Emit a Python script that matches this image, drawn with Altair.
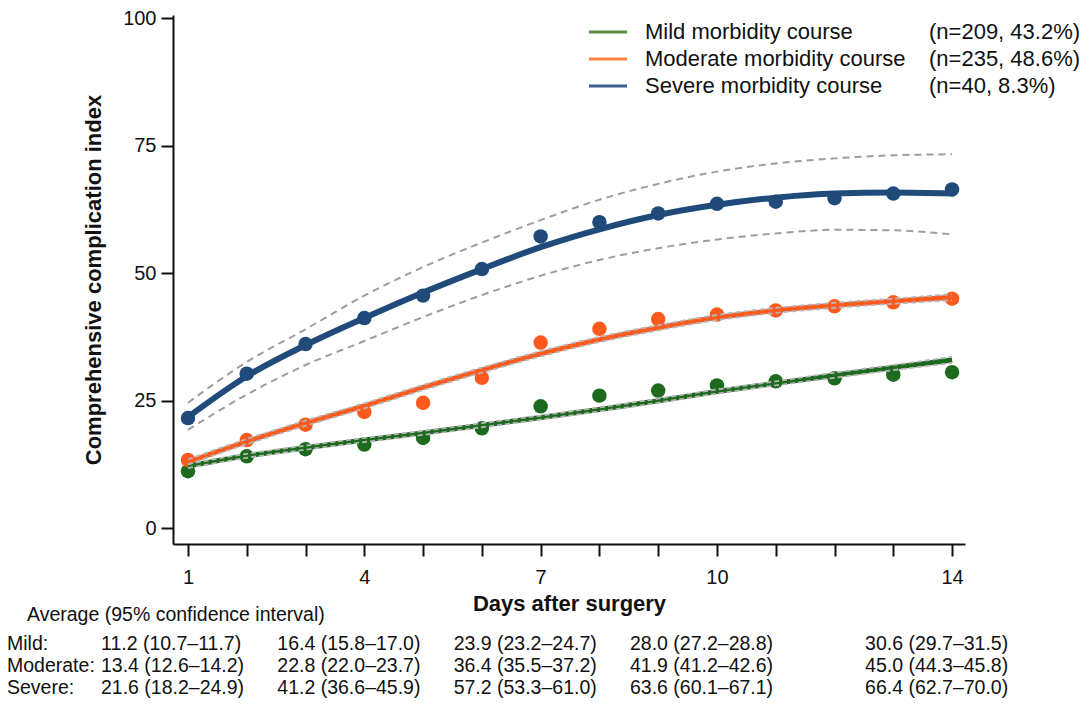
import altair as alt
import pandas as pd

FONT = "Liberation Sans"

days = list(range(1, 15))
series = ["Mild", "Moderate", "Severe"]

# observed daily means
mild_obs = [11.2, 14.1, 15.5, 16.4, 17.7, 19.6, 23.9, 26.0, 27.0, 28.0, 28.8, 29.4, 30.1, 30.6]
mod_obs = [13.4, 17.3, 20.3, 22.8, 24.6, 29.5, 36.4, 39.1, 41.0, 41.9, 42.7, 43.5, 44.3, 45.0]
sev_obs = [21.6, 30.3, 36.1, 41.2, 45.6, 50.8, 57.2, 60.0, 61.7, 63.6, 64.0, 64.7, 65.6, 66.4]

# fitted trajectories
mild_fit = [12.2, 14.2, 15.8, 17.3, 18.7, 20.2, 21.7, 23.3, 25.0, 26.8, 28.4, 30.0, 31.5, 33.0]
mod_fit = [13.0, 17.0, 20.6, 24.0, 27.6, 31.0, 34.2, 37.0, 39.3, 41.3, 42.7, 43.7, 44.5, 45.3]
sev_fit = [21.8, 29.8, 35.9, 41.2, 46.2, 50.8, 55.1, 58.6, 61.4, 63.4, 64.8, 65.6, 65.8, 65.6]

# fitted confidence bounds
mild_lo = [11.8, 13.8, 15.4, 16.9, 18.3, 19.8, 21.3, 22.9, 24.6, 26.4, 28.0, 29.5, 31.0, 32.4]
mild_hi = [12.6, 14.6, 16.2, 17.7, 19.1, 20.6, 22.1, 23.7, 25.4, 27.2, 28.8, 30.5, 32.0, 33.6]
mod_lo = [12.5, 16.5, 20.1, 23.5, 27.1, 30.5, 33.7, 36.5, 38.8, 40.8, 42.2, 43.2, 44.0, 44.7]
mod_hi = [13.5, 17.5, 21.1, 24.5, 28.1, 31.5, 34.7, 37.5, 39.8, 41.8, 43.2, 44.2, 45.0, 45.9]
sev_lo = [19.3, 26.2, 32.0, 36.7, 41.4, 45.7, 49.5, 52.6, 54.9, 56.6, 57.8, 58.5, 58.4, 57.6]
sev_hi = [24.6, 32.6, 39.0, 45.6, 51.2, 56.0, 60.4, 64.4, 67.5, 69.9, 71.5, 72.5, 73.1, 73.3]

label_days = [1, 4, 7, 10, 14]
y_ticks = [0, 25, 50, 75, 100]

legend_names = ["Mild morbidity course", "Moderate morbidity course", "Severe morbidity course"]
legend_counts = ["(n=209, 43.2%)", "(n=235, 48.6%)", "(n=40, 8.3%)"]

table_days = [1, 4, 7, 10, 14]
row_labels = ["Mild:", "Moderate:", "Severe:"]
mild_tab = ["11.2 (10.7–11.7)", "16.4 (15.8–17.0)", "23.9 (23.2–24.7)", "28.0 (27.2–28.8)", "30.6 (29.7–31.5)"]
mod_tab = ["13.4 (12.6–14.2)", "22.8 (22.0–23.7)", "36.4 (35.5–37.2)", "41.9 (41.2–42.6)", "45.0 (44.3–45.8)"]
sev_tab = ["21.6 (18.2–24.9)", "41.2 (36.6–45.9)", "57.2 (53.3–61.0)", "63.6 (60.1–67.1)", "66.4 (62.7–70.0)"]
table_header = "Average (95% confidence interval)"

point_colors = ["#1d6a1f", "#ff5a1e", "#1f4a7a"]
line_colors = ["#1d6a1f", "#f7612a", "#1f4a7a"]
legend_colors = ["#5a8f3e", "#f4843f", "#3a5c91"]

obs = {"Mild": mild_obs, "Moderate": mod_obs, "Severe": sev_obs}
fit = {"Mild": mild_fit, "Moderate": mod_fit, "Severe": sev_fit}
lo = {"Mild": mild_lo, "Moderate": mod_lo, "Severe": sev_lo}
hi = {"Mild": mild_hi, "Moderate": mod_hi, "Severe": sev_hi}

obs_df = pd.DataFrame([{"day": d, "series": s, "value": v} for s in series for d, v in zip(days, obs[s])])
fit_df = pd.DataFrame([{"day": d, "series": s, "value": v} for s in series for d, v in zip(days, fit[s])])
ci_df = pd.DataFrame(
    [{"day": d, "series": s, "bound": "lo", "value": v} for s in series for d, v in zip(days, lo[s])]
    + [{"day": d, "series": s, "bound": "hi", "value": v} for s in series for d, v in zip(days, hi[s])]
)
band_df = pd.DataFrame(
    [{"day": d, "series": s, "lo": a, "hi": b} for s in ["Mild", "Moderate"] for d, a, b in zip(days, lo[s], hi[s])]
)

xs = alt.Scale(domain=[0.745, 14.22], nice=False, zero=False)
ys = alt.Scale(domain=[-3.08, 100.6], nice=False, zero=False)

x_axis = alt.Axis(
    values=days,
    labelExpr="indexof([1, 4, 7, 10, 14], datum.value) >= 0 ? datum.label : ''",
    title="Days after surgery",
    grid=False,
    tickSize=12,
    labelPadding=11,
    titlePadding=6,
    labelFlush=False,
    labelOverlap=False,
)
y_axis = alt.Axis(
    values=y_ticks,
    title="Comprehensive complication index",
    grid=False,
    tickSize=12,
    labelPadding=5,
    titlePadding=17,
)

X = alt.X("day:Q", scale=xs, axis=x_axis)
Y = alt.Y("value:Q", scale=ys, axis=y_axis)

pt_color = alt.Color("series:N", scale=alt.Scale(domain=series, range=point_colors), legend=None)
ln_color = alt.Color("series:N", scale=alt.Scale(domain=series, range=line_colors), legend=None)

band = alt.Chart(band_df).mark_area(color="#b0b0b0", opacity=0.5, interpolate="monotone").encode(
    x=X, y=alt.Y("lo:Q", scale=ys, axis=y_axis), y2="hi:Q", detail="series:N"
)

points = alt.Chart(obs_df).mark_circle(size=210, opacity=1).encode(x=X, y=Y, color=pt_color)

fit_main = alt.Chart(fit_df[fit_df.series == "Severe"]).mark_line(
    strokeWidth=6, interpolate="monotone", strokeCap="round"
).encode(x=X, y=Y, color=ln_color)
fit_other = alt.Chart(fit_df[fit_df.series != "Severe"]).mark_line(
    strokeWidth=5, interpolate="monotone"
).encode(x=X, y=Y, color=ln_color)

ci_sev = alt.Chart(ci_df[ci_df.series == "Severe"]).mark_line(
    color="#9d9d9d", strokeWidth=2, strokeDash=[7, 5], interpolate="monotone"
).encode(x=X, y=Y, detail="bound:N")
ci_other = alt.Chart(ci_df[ci_df.series != "Severe"]).mark_line(
    color="#b5b5b5", strokeWidth=1.8, strokeDash=[5, 3], interpolate="monotone"
).encode(x=X, y=Y, detail=["series:N", "bound:N"])

layers = [band, points, fit_other, fit_main, ci_other, ci_sev]

# manual legend
leg_y = [17, 44, 71]
for name, cnt, col, yy in zip(legend_names, legend_counts, legend_colors, leg_y):
    d1 = pd.DataFrame({"name": [name], "cnt": [cnt]})
    layers.append(
        alt.Chart(d1).mark_rule(color=col, strokeWidth=3).encode(
            x=alt.value(416), x2=alt.value(454), y=alt.value(yy)
        )
    )
    layers.append(
        alt.Chart(d1).mark_text(align="left", baseline="middle", fontSize=22, font=FONT, color="#111").encode(
            x=alt.value(472), y=alt.value(yy), text="name:N"
        )
    )
    layers.append(
        alt.Chart(d1).mark_text(align="left", baseline="middle", fontSize=22, font=FONT, color="#111").encode(
            x=alt.value(756), y=alt.value(yy), text="cnt:N"
        )
    )

# table under the axis
TFS = 19.5
hdr = pd.DataFrame({"t": [table_header]})
layers.append(
    alt.Chart(hdr).mark_text(align="left", baseline="middle", fontSize=TFS, font=FONT, color="#111").encode(
        x=alt.value(-146), y=alt.value(600), text="t:N"
    )
)
row_y = [629, 651, 673]
for lab, vals, yy in zip(row_labels, [mild_tab, mod_tab, sev_tab], row_y):
    dl = pd.DataFrame({"t": [lab]})
    layers.append(
        alt.Chart(dl).mark_text(align="left", baseline="middle", fontSize=TFS, font=FONT, color="#111").encode(
            x=alt.value(-166), y=alt.value(yy), text="t:N"
        )
    )
    dv = pd.DataFrame({"day": table_days, "t": vals})
    layers.append(
        alt.Chart(dv).mark_text(align="left", baseline="middle", fontSize=TFS, font=FONT, color="#111", dx=-87).encode(
            x=X, y=alt.value(yy), text="t:N"
        )
    )

chart = (
    alt.layer(*layers)
    .properties(
        width=792,
        height=529,
        autosize=alt.AutoSizeParams(type="none"),
        padding={"left": 165, "top": 7, "right": 116, "bottom": 155},
    )
    .configure_view(stroke=None)
    .configure_axis(
        domainColor="#111",
        domainWidth=2,
        tickColor="#111",
        tickWidth=2,
        labelColor="#111",
        labelFont=FONT,
        labelFontSize=20,
        titleFont=FONT,
        titleFontSize=22,
        titleFontWeight="bold",
        titleColor="#111",
    )
)

chart.save("out.html", embed_options={"renderer": "svg", "actions": False})
